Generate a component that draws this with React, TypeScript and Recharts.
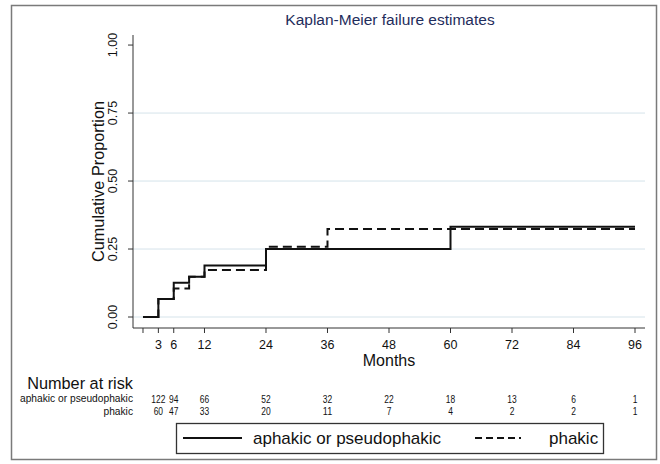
import React from 'react';
import { LineChart, Line, XAxis, YAxis, ReferenceLine } from 'recharts';

// Kaplan-Meier failure estimates (step functions)
const aphakicTimes = [0, 3, 6, 9, 12, 24, 60, 96];
const aphakicFailure = [0, 0.066, 0.126, 0.148, 0.189, 0.25, 0.332, 0.332];
const phakicTimes = [0, 3, 6, 9, 12, 24, 36, 96];
const phakicFailure = [0, 0.066, 0.105, 0.148, 0.173, 0.258, 0.3235, 0.3235];

const xTicks = [0, 3, 6, 12, 24, 36, 48, 60, 72, 84, 96];
const yTicks = [0, 0.25, 0.5, 0.75, 1];
const gridValues = [0, 0.25, 0.5, 0.75];

// Number at risk table
const riskTimes = [3, 6, 12, 24, 36, 48, 60, 72, 84, 96];
const riskAphakic = [122, 94, 66, 52, 32, 22, 18, 13, 6, 1];
const riskPhakic = [60, 47, 33, 20, 11, 7, 4, 2, 2, 1];

const groupNames = ['aphakic or pseudophakic', 'phakic'];

const aphakicData = aphakicTimes.map((t, i) => ({ t, v: aphakicFailure[i] }));
const phakicData = phakicTimes.map((t, i) => ({ t, v: phakicFailure[i] }));

const FONT = "'Liberation Sans', Arial, sans-serif";
const INK = '#111';

const RiskNum = ({ x, y, n }: { x: number; y: number; n: number }) => (
  <text
    x={x}
    y={y}
    textAnchor="middle"
    fontSize={11.5}
    fontFamily={FONT}
    fill={INK}
    textLength={String(n).length * 4.7}
    lengthAdjust="spacingAndGlyphs"
  >
    {n}
  </text>
);

const XTick = (props: any) => {
  const { x, y, payload } = props;
  const v = payload.value;
  const idx = riskTimes.indexOf(v);
  return (
    <g>
      {v !== 0 && (
        <text x={x} y={y + 14} textAnchor="middle" fontSize={12.5} fontFamily={FONT} fill={INK}>
          {v}
        </text>
      )}
      {idx >= 0 && <RiskNum x={x} y={y + 67.5} n={riskAphakic[idx]} />}
      {idx >= 0 && <RiskNum x={x} y={y + 80} n={riskPhakic[idx]} />}
    </g>
  );
};

const YTick = (props: any) => {
  const { x, y, payload } = props;
  const px = x - 8.5;
  return (
    <text
      x={px}
      y={y}
      transform={`rotate(-90, ${px}, ${y})`}
      textAnchor="middle"
      fontSize={12.5}
      fontFamily={FONT}
      fill={INK}
    >
      {Number(payload.value).toFixed(2)}
    </text>
  );
};

const YLabel = (props: any) => {
  const vb = props.viewBox || {};
  const px = vb.x + 11;
  const py = vb.y + vb.height / 2;
  return (
    <text
      x={px}
      y={py}
      transform={`rotate(-90, ${px}, ${py})`}
      textAnchor="middle"
      fontSize={16.3}
      fontFamily={FONT}
      fill={INK}
    >
      Cumulative Proportion
    </text>
  );
};

export default function App() {
  return (
    <div style={{ position: 'absolute', left: 0, top: 0, width: 660, height: 464, background: '#fff', fontFamily: FONT }}>
      <div style={{ position: 'absolute', left: 0, top: 0 }}>
        <LineChart width={660} height={464} margin={{ top: 35, right: 15, left: 93, bottom: 96 }}>
          {gridValues.map((g) => (
            <ReferenceLine key={g} y={g} stroke="#d5e3ea" strokeWidth={1} />
          ))}
          <XAxis
            dataKey="t"
            type="number"
            domain={[-1.95, 97.95]}
            ticks={xTicks}
            allowDataOverflow
            interval={0}
            tickSize={5}
            tickMargin={2}
            height={40}
            stroke="#333"
            tick={XTick}
            label={{ value: 'Months', position: 'insideBottom', offset: 2, fontSize: 16, fill: INK, fontFamily: FONT }}
          />
          <YAxis
            type="number"
            domain={[-0.0404, 1.037]}
            ticks={yTicks}
            allowDataOverflow
            interval={0}
            width={40}
            tickSize={5}
            tickMargin={2}
            stroke="#333"
            tick={YTick}
            label={<YLabel />}
          />
          <Line
            data={phakicData}
            dataKey="v"
            type="stepAfter"
            stroke={INK}
            strokeWidth={2}
            strokeDasharray="9 5"
            dot={false}
            isAnimationActive={false}
          />
          <Line
            data={aphakicData}
            dataKey="v"
            type="stepAfter"
            stroke={INK}
            strokeWidth={2}
            dot={false}
            isAnimationActive={false}
          />
        </LineChart>
      </div>
      <svg width={660} height={464} style={{ position: 'absolute', left: 0, top: 0, pointerEvents: 'none' }}>
        <rect x={11.5} y={5.5} width={645} height={454} fill="none" stroke="#7a7a7a" strokeWidth={1.5} />
        <text x={390} y={25} textAnchor="middle" fontSize={15.5} fontFamily={FONT} fill="#1f2d5c">
          Kaplan-Meier failure estimates
        </text>
        <text x={133} y={389} textAnchor="end" fontSize={16.3} fontFamily={FONT} fill={INK}>
          Number at risk
        </text>
        <text
          x={133}
          y={402}
          textAnchor="end"
          fontSize={11.5}
          fontFamily={FONT}
          fill={INK}
          textLength={113}
          lengthAdjust="spacingAndGlyphs"
        >
          {groupNames[0]}
        </text>
        <text
          x={133}
          y={414.5}
          textAnchor="end"
          fontSize={11.5}
          fontFamily={FONT}
          fill={INK}
          textLength={29.5}
          lengthAdjust="spacingAndGlyphs"
        >
          {groupNames[1]}
        </text>
        <rect x={176.5} y={423.5} width={427} height={30} fill="#fff" stroke="#333" strokeWidth={1.3} />
        <line x1={183} y1={438} x2={242} y2={438} stroke={INK} strokeWidth={2} />
        <text x={253} y={444} fontSize={17} fontFamily={FONT} fill={INK}>
          {groupNames[0]}
        </text>
        <line x1={475} y1={438} x2={521} y2={438} stroke={INK} strokeWidth={2} strokeDasharray="7 4" />
        <text x={549} y={444} fontSize={17} fontFamily={FONT} fill={INK}>
          {groupNames[1]}
        </text>
      </svg>
    </div>
  );
}
